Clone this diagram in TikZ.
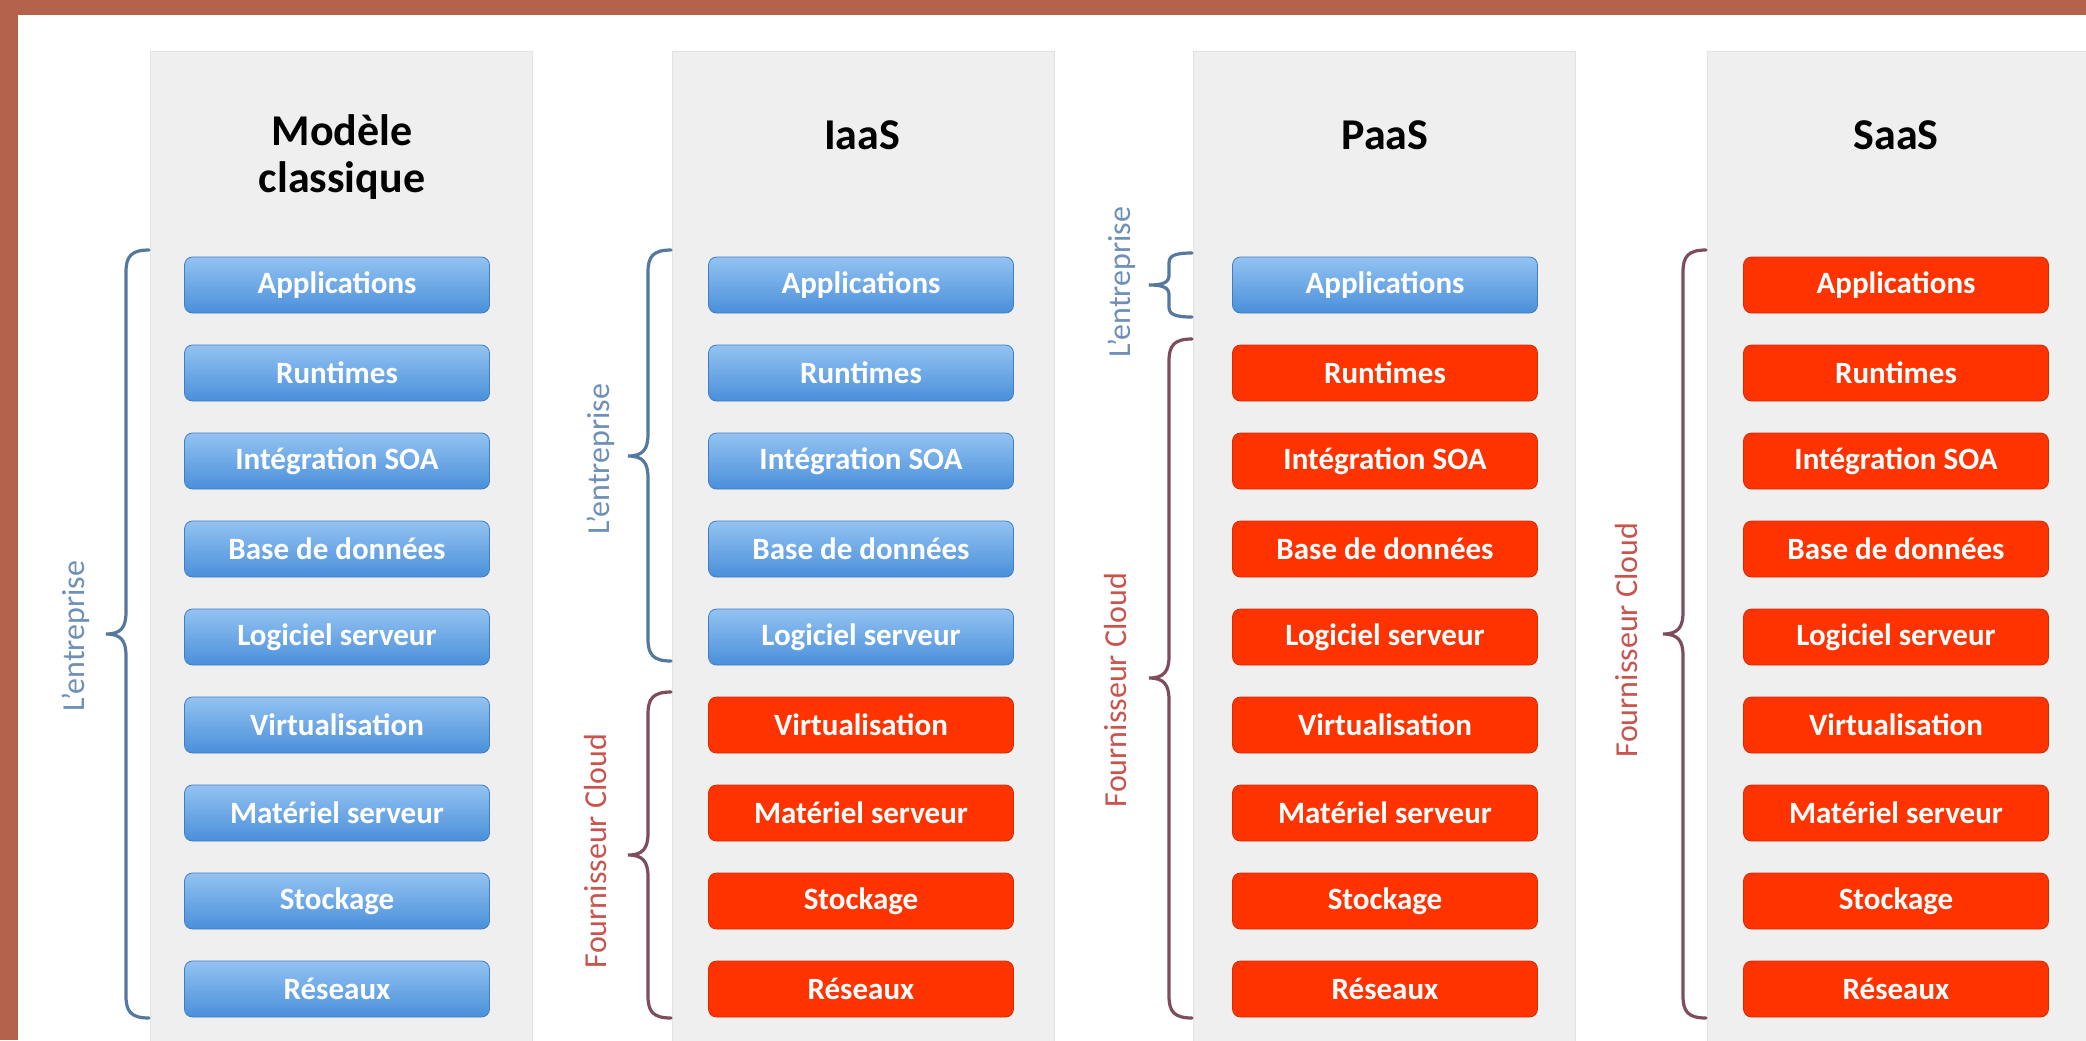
\documentclass[tikz,border=0pt]{standalone}
\usepackage{fontspec}
\setmainfont{Carlito}
\usepackage{tikz}
\definecolor{framered}{HTML}{B3624B}
\definecolor{panelfill}{HTML}{EFEFEF}
\definecolor{panelline}{HTML}{E2E2E2}
\definecolor{bluetop}{HTML}{93C3F2}
\definecolor{bluebot}{HTML}{4A8FDA}
\definecolor{blueedge}{HTML}{3F7EC4}
\definecolor{layerred}{HTML}{FF3300}
\definecolor{rededge}{HTML}{D52B00}
\definecolor{bluebrace}{HTML}{55789F}
\definecolor{bluetext}{HTML}{6D8FB8}
\definecolor{redbrace}{HTML}{7D4E5A}
\definecolor{redtext}{HTML}{C9544E}
\tikzstyle{stackbox}=[rounded corners=4pt,minimum width=152.5pt,minimum height=28pt,
                      inner sep=0pt,text=white,font=\bfseries\fontsize{15.5}{18}\selectfont]
\tikzstyle{bluelayer}=[stackbox,top color=bluetop,bottom color=bluebot,draw=blueedge]
\tikzstyle{redlayer}=[stackbox,fill=layerred,draw=rededge]
\tikzstyle{coltitle}=[align=center,font=\bfseries\fontsize{22}{23.5}\selectfont]
\tikzstyle{entlabel}=[rotate=90,text=bluetext,font=\fontsize{16}{19}\selectfont]
\tikzstyle{cloudlabel}=[rotate=90,text=redtext,font=\fontsize{16}{19}\selectfont]
\tikzstyle{bracepath}=[line width=1.6pt,line cap=round]

\begin{document}
\begin{tikzpicture}[x=0.5pt,y=-0.5pt]
    % #1 colour, #2 right end x, #3 top y, #4 tip y, #5 bottom y, #6 hook
    \newcommand{\ebrace}[6]{%
      \draw[bracepath,#1] (#2,#3)
        .. controls (#2-18,#3) and (#2-23,#3+#6*0.3) .. (#2-23,#3+#6)
        -- (#2-23,#4-#6)
        .. controls (#2-23,#4-#6*0.3) and (#2-28,#4) .. (#2-43,#4)
        .. controls (#2-28,#4) and (#2-23,#4+#6*0.3) .. (#2-23,#4+#6)
        -- (#2-23,#5-#6)
        .. controls (#2-23,#5-#6*0.3) and (#2-18,#5) .. (#2,#5);}
    \useasboundingbox (0,0) rectangle (2086,1040);
    \clip (0,0) rectangle (2086,1040);
    % frame
    \fill[framered] (0,0) rectangle (2086,15);
    \fill[framered] (0,0) rectangle (18,1040);
    % columns
    \foreach \px in {150,672,1193,1707}
        \draw[panelline,fill=panelfill] (\px,51) rectangle ++(382,1010);
    \node[coltitle] (tclass) at (342,157) {Modèle\\classique};
    \node[coltitle] (tiaas) at (862,135) {IaaS};
    \node[coltitle] (tpaas) at (1385,135) {PaaS};
    \node[coltitle] (tsaas) at (1896,135) {SaaS};
    % layers
    \foreach \col/\cx/\nb in {m/337/9,i/861/5,p/1385/1,s/1896/0}
      \foreach \lbl [count=\r] in {Applications,Runtimes,Intégration SOA,
          Base de données,Logiciel serveur,Virtualisation,Matériel serveur,
          Stockage,Réseaux}{
        \ifnum\r>\nb \tikzset{stackfill/.style=redlayer}%
        \else \tikzset{stackfill/.style=bluelayer}\fi
        \node[stackfill] (\col\r) at (\cx,{197+88*\r}) {\lbl};
      }
    % braces
    \ebrace{bluebrace}{149}{250}{634}{1018}{22}
    \ebrace{bluebrace}{671}{250}{456}{661}{22}
    \ebrace{redbrace}{671}{692}{855}{1018}{22}
    \ebrace{bluebrace}{1192}{253}{285}{317}{10}
    \ebrace{redbrace}{1192}{339}{678}{1018}{22}
    \ebrace{redbrace}{1706}{250}{634}{1018}{22}
    \node[entlabel] (entm) at (76,636) {L'entreprise};
    \node[entlabel] (enti) at (601,459) {L'entreprise};
    \node[cloudlabel] (cloudi) at (595,851) {Fournisseur Cloud};
    \node[entlabel] (entp) at (1122,282) {L'entreprise};
    \node[cloudlabel] (cloudp) at (1115,690) {Fournisseur Cloud};
    \node[cloudlabel] (clouds) at (1626,640) {Fournisseur Cloud};
\end{tikzpicture}
\end{document}
